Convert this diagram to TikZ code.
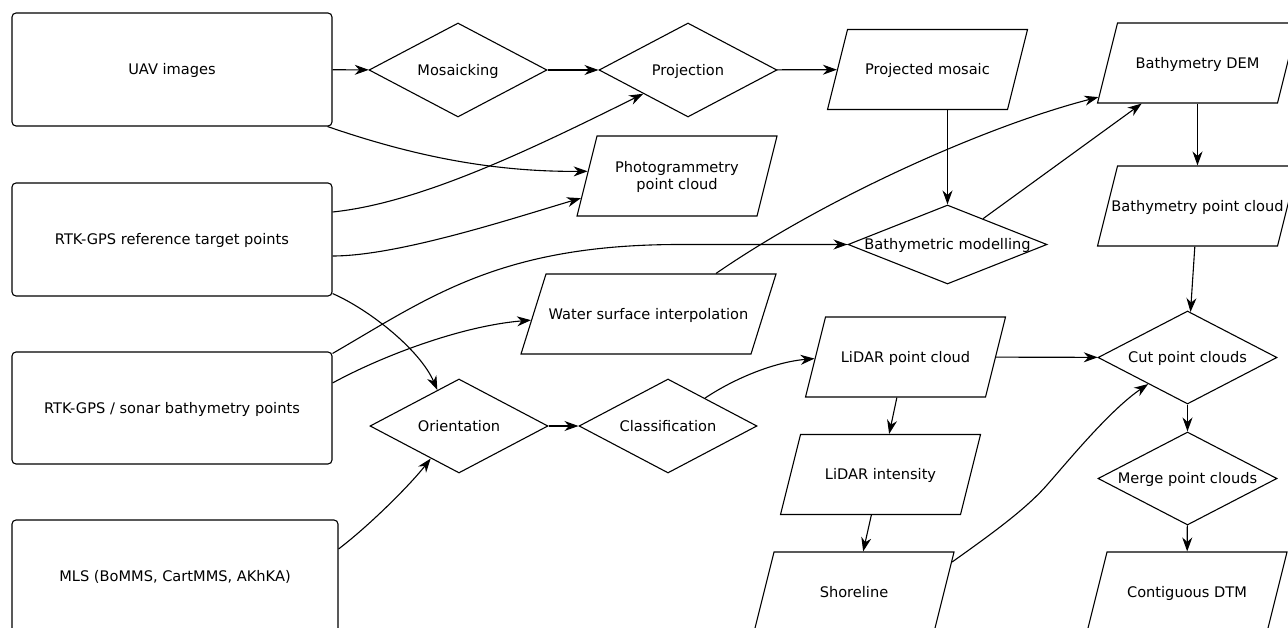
\documentclass[tikz,border=0pt]{standalone}
\usepackage{fontspec}
\setmainfont{DejaVu Sans}
\usetikzlibrary{shapes.geometric,arrows.meta,calc}
\newcommand{\pk}[1]{\makebox[0pt]{\smash{\raisebox{-5.2pt}{#1}}}}
\begin{document}
\begin{tikzpicture}[x=1pt,y=-1pt,
  every node/.style={font=\fontsize{14.6}{17}\selectfont, inner sep=0pt},
  srcbox/.style={draw, line width=1.1pt, rounded corners=4pt, fill=white, rectangle},
  dia/.style={draw, line width=1.1pt, fill=white, diamond},
  para/.style={draw, line width=1.1pt, fill=white, trapezium,
    trapezium left angle=75.96, trapezium right angle=104.04,
    inner xsep=0pt, inner ysep=40pt,
    trapezium stretches body=true, minimum width=200},
  paraw/.style={draw, line width=1.1pt, fill=white, trapezium,
    trapezium left angle=72.65, trapezium right angle=107.35,
    inner xsep=0pt, inner ysep=40pt,
    trapezium stretches body=true, minimum width=255},
  arr/.style={line width=1.1pt, -{Stealth[length=14pt,width=10pt,inset=4.5pt]}}
]
\useasboundingbox (0,0) rectangle (1288,628);
\fill[white] (0,0) rectangle (1288,628);
\clip (0,0) rectangle (1288,628);

% sources
\node[srcbox, minimum width=320, minimum height=113] (uav) at (172,69.5) {\pk{UAV images}};
\node[srcbox, minimum width=320, minimum height=113] (rtk) at (172,239.5) {\pk{RTK-GPS reference target points}};
\node[srcbox, minimum width=320, minimum height=112] (son) at (172,408) {\pk{RTK-GPS / sonar bathymetry points}};
\node[srcbox, minimum width=326, minimum height=113] (mls) at (175,576.5) {\pk{MLS (BoMMS, CartMMS, AKhKA)}};

% processes
\node[dia, minimum width=178, minimum height=94] (mos) at (458,70) {\pk{Mosaicking}};
\node[dia, minimum width=178, minimum height=94] (proj) at (688,70) {\pk{Projection}};
\node[dia, minimum width=178, minimum height=94] (ori) at (459,426) {\pk{Orientation}};
\node[dia, minimum width=178, minimum height=94] (cls) at (668,426) {\pk{Classification}};
\node[dia, minimum width=199, minimum height=79] (bm) at (947.5,244.5) {\pk{Bathymetric modelling}};
\node[dia, minimum width=179, minimum height=93] (cut) at (1187.5,357.5) {\pk{Cut point clouds}};
\node[dia, minimum width=179, minimum height=93] (mrg) at (1187.5,478.5) {\pk{Merge point clouds}};

% data
\node[para] (phot) at (677,176) {\pk{\begin{tabular}{@{}c@{}}Photogrammetry\\point cloud\end{tabular}}};
\node[para] (pm) at (927.5,69.5) {\pk{Projected mosaic}};
\node[para] (dem) at (1197.5,63) {\pk{Bathymetry DEM}};
\node[para] (bpc) at (1197.5,206) {\pk{Bathymetry point cloud}};
\node[paraw] (wsi) at (648.5,314) {\pk{Water surface interpolation}};
\node[para] (lpc) at (905.5,357) {\pk{LiDAR point cloud}};
\node[para] (lint) at (880.5,474.5) {\pk{LiDAR intensity}};
\node[para] (shore) at (854,592) {\pk{Shoreline}};
\node[para] (dtm) at (1187,592) {\pk{Contiguous DTM}};

% connectors
\draw[arr] (uav) -- (mos);
\draw[arr] (mos) -- (proj);
\draw[arr] (proj) -- (pm);
\draw[arr] ([xshift=-5pt]uav.south east) .. controls (410,155) and (490,172) .. (phot.177);
\draw[arr] ([yshift=27.5pt]rtk.east) .. controls (420,203) and (530,150) .. (proj.south west);
\draw[arr] ([yshift=-16.5pt]rtk.east) .. controls (400,256) and (520,216) .. (phot.193);
\draw[arr] ([yshift=3pt]rtk.south east) .. controls (370,310) and (420,350) .. (ori.121);
\draw[arr] ([yshift=-2pt]son.north east) .. controls (430,297) and (500,244.5) .. (680,244.5) -- (bm.west);
\draw[arr] ([yshift=25pt]son.east) .. controls (380,357) and (460,326) .. (wsi.183);
\draw[arr] ([yshift=27.5pt]mls.east) .. controls (370,525) and (410,485) .. (ori.229);
\draw[arr] (ori) -- (cls);
\draw[arr] (cls.37) .. controls (735,378) and (775,362) .. (lpc.181);
\draw[arr] (wsi.31) .. controls (830,195) and (990,125) .. (dem.199);
\draw[arr] (bm.north |- pm.south) -- (bm.north);
\draw[arr] (bm) -- (dem);
\draw[arr] (dem) -- (bpc);
\draw[arr] (bpc) -- (cut);
\draw[arr] (lpc) -- (cut);
\draw[arr] (lpc) -- (lint);
\draw[arr] (lint) -- (shore);
\draw[arr] (shore.17) .. controls (990,535) and (1025,510) .. (1047,485) .. controls (1069,460) and (1110,410) .. (cut.214);
\draw[arr] (cut) -- (mrg);
\draw[arr] (mrg) -- (dtm);
\end{tikzpicture}
\end{document}
